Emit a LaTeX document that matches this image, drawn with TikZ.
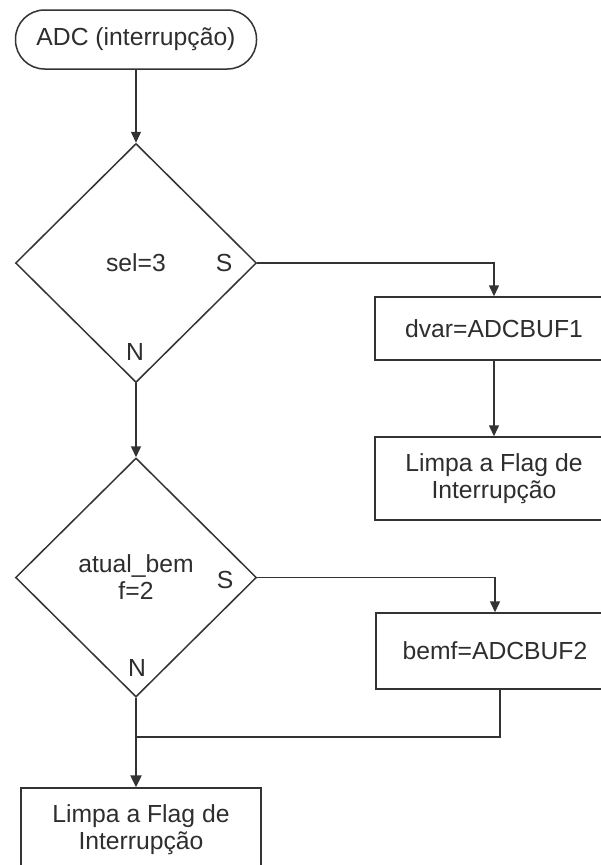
\documentclass[tikz,border=0pt]{standalone}
\usepackage{fontspec}
\setmainfont{Liberation Sans}
\usetikzlibrary{shapes.geometric,arrows.meta}

\definecolor{ink}{HTML}{333333}
\definecolor{txt}{HTML}{2E2E2E}

\tikzset{
  base/.style={draw=ink, line width=1.5pt, text=txt, inner sep=0pt,
    font=\fontsize{24.7}{27}\selectfont, align=center},
  terminal/.style={base, rectangle, rounded corners=29pt,
    minimum width=241pt, minimum height=59pt},
  decision/.style={base, diamond, minimum width=241pt, minimum height=239pt},
  process/.style={base, rectangle, minimum width=238pt},
  answer/.style={text=txt, inner sep=0pt, font=\fontsize{24.7}{27}\selectfont},
  flow/.style={draw=ink, line width=1.5pt, -{Triangle[width=10pt,length=11pt]}},
  plain/.style={draw=ink, line width=1.5pt},
  flowbold/.style={draw=ink, line width=2.4pt, -{Triangle[width=11pt,length=12pt]}}
}

\begin{document}
\begin{tikzpicture}[x=1pt,y=-1pt]
  \useasboundingbox (0,0) rectangle (601,865);
  \fill[white] (0,0) rectangle (601,865);
  \clip (0,0) rectangle (601,865);

  % blocks
  \node[terminal] (start) at (136,39.5) {ADC (interrupção)};
  \node[decision] (d1) at (136,263) {sel=3};
  \node[process, minimum height=63pt] (b1) at (494,328.5) {dvar=ADCBUF1};
  \node[process, minimum height=83pt] (b2) at (494,478.5) {Limpa a Flag de\\Interrupção};
  \node[decision] (d2) at (136,577.5) {atual\_bem\\f=2};
  \node[process, minimum height=76pt] (b3) at (495,651) {bemf=ADCBUF2};
  \node[process, minimum width=240pt, minimum height=84pt] (b4) at (141,830) {Limpa a Flag de\\Interrupção};

  % branch labels
  \node[answer] (s1) at (224,263) {S};
  \node[answer] (n1) at (135,352) {N};
  \node[answer] (s2) at (225,580) {S};
  \node[answer] (n2) at (137,668) {N};

  % connectors
  \draw[flow] (start.south) -- (d1.north);
  \draw[flow] (d1.east) -| (b1.north);
  \draw[flow] (b1.south) -- (b2.north);
  \draw[flow] (d1.south) -- (d2.north);
  \draw[flow] (d2.east) -| (b3.north);

  \coordinate (k) at (500,737);
  \coordinate (j) at (136,737);
  \draw[plain] (b3.south -| k) -- (k) -- (j);
  \draw[plain] (d2.south) -- (j);
  \draw[flowbold] (j) -- (j |- b4.north);
\end{tikzpicture}
\end{document}
